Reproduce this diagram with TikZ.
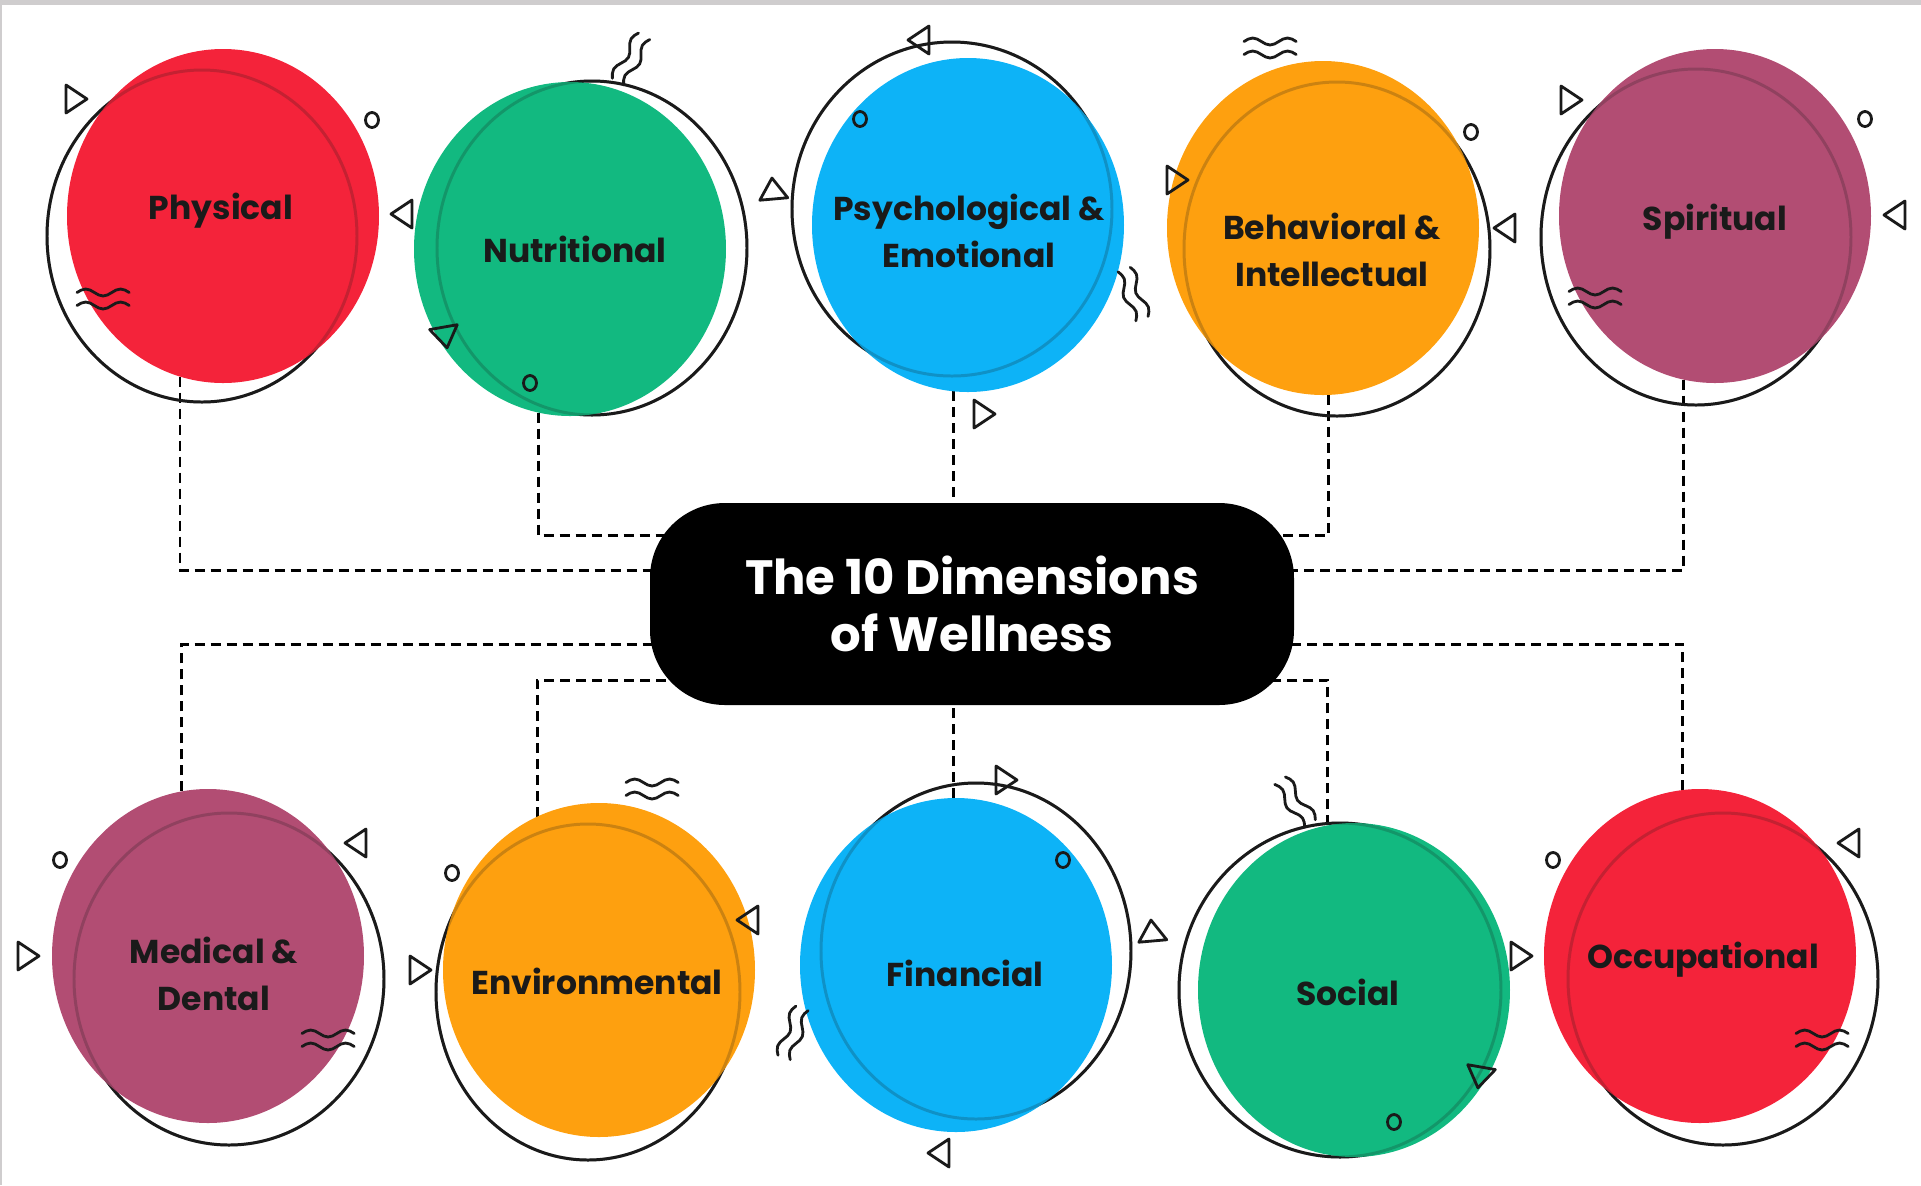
\documentclass[tikz,border=0pt]{standalone}
\usepackage{fontspec}
\setmainfont{Poppins}
\usetikzlibrary{shapes.geometric}
\definecolor{wRed}{HTML}{F4233A}
\definecolor{wGreen}{HTML}{12B980}
\definecolor{wBlue}{HTML}{0DB3F7}
\definecolor{wOrange}{HTML}{FEA00F}
\definecolor{wMauve}{HTML}{B24D73}
\definecolor{ink}{HTML}{1A1A1A}
\definecolor{edge}{HTML}{CFCDCE}
\pgfdeclarelayer{bg}
\pgfsetlayers{bg,main}
\tikzset{blob/.style={ellipse, minimum width=3.12cm, minimum height=3.34cm,
    inner sep=0pt, outer sep=0pt},
  lbl/.style={align=center, text=ink, font=\bfseries\fontsize{9.4}{13.4}\selectfont},
  ring/.style={draw=ink, line width=0.85pt},
  ghost/.style={draw=ink, draw opacity=.22, line width=0.85pt},
  link/.style={draw=black, line width=0.85pt, dash pattern=on 0.1cm off 0.06cm},
  deco/.style={draw=ink, line width=0.8pt, line join=round, line cap=round},
  titlebox/.style={fill=black, text=white, rounded corners=0.75cm, minimum width=6.44cm,
    minimum height=2.02cm, align=center, font=\bfseries\fontsize{13.7}{16.4}\selectfont},
  tri/.pic={\draw[deco] (0.12,0) -- (-0.09,0.14) -- (-0.09,-0.14) -- cycle;},
  dot/.pic={\draw[deco] (0,0) ellipse (0.065 and 0.075);},
  wave/.pic={\foreach \s in {0.065,-0.065}
    \draw[deco] (-0.26,\s) sin ++(0.087,0.035) cos ++(0.087,-0.035) sin ++(0.087,-0.035)
      cos ++(0.087,0.035) sin ++(0.087,0.035) cos ++(0.087,-0.035);}}

\begin{document}
\begin{tikzpicture}
		\useasboundingbox (0,0) rectangle (19.21,-11.85);
		\fill[edge] (0,0) rectangle (19.21,-0.05);
		\fill[edge] (0,0) rectangle (0.02,-11.85);
		% outline rings
		\foreach \x/\y/\rx/\ry in {2.02/-2.36/1.55/1.66, 5.92/-2.48/1.55/1.67,
		    9.52/-2.09/1.60/1.67, 13.37/-2.49/1.53/1.67, 16.96/-2.37/1.55/1.68,
		    2.29/-9.79/1.55/1.66, 5.88/-9.92/1.52/1.68, 9.76/-9.51/1.55/1.68,
		    13.40/-9.90/1.61/1.67, 17.23/-9.79/1.55/1.66}
		  \draw[ring] (\x,\y) ellipse (\rx cm and \ry cm);
		% dimensions
		\node[blob, fill=wRed] (phys) at (2.23,-2.16) {};
		\node[blob, fill=wGreen] (nutr) at (5.70,-2.49) {};
		\node[blob, fill=wBlue] (psy) at (9.68,-2.25) {};
		\node[blob, fill=wOrange] (beh) at (13.23,-2.28) {};
		\node[blob, fill=wMauve] (spir) at (17.15,-2.16) {};
		\node[blob, fill=wMauve] (med) at (2.08,-9.56) {};
		\node[blob, fill=wOrange] (env) at (5.99,-9.70) {};
		\node[blob, fill=wBlue] (fin) at (9.56,-9.65) {};
		\node[blob, fill=wGreen] (soc) at (13.54,-9.90) {};
		\node[blob, fill=wRed] (occ) at (17.00,-9.56) {};
		% rings seen through the colour
		\foreach \x/\y/\rx/\ry in {2.02/-2.36/1.55/1.66, 5.92/-2.48/1.55/1.67,
		    9.52/-2.09/1.60/1.67, 13.37/-2.49/1.53/1.67, 16.96/-2.37/1.55/1.68,
		    2.29/-9.79/1.55/1.66, 5.88/-9.92/1.52/1.68, 9.76/-9.51/1.55/1.68,
		    13.40/-9.90/1.61/1.67, 17.23/-9.79/1.55/1.66}
		  \draw[ghost] (\x,\y) ellipse (\rx cm and \ry cm);
		\node[lbl] (physT) at ([shift={(-0.02,0.05)}]phys) {Physical};
		\node[lbl] (nutrT) at ([shift={(0.05,0)}]nutr) {Nutritional};
		\node[lbl] (psyT) at ([shift={(0.01,-0.06)}]psy) {Psychological \&\\Emotional};
		\node[lbl] (behT) at ([shift={(0.09,-0.22)}]beh) {Behavioral \&\\Intellectual};
		\node[lbl] (spirT) at ([shift={(0,-0.06)}]spir) {Spiritual};
		\node[lbl] (medT) at ([shift={(0.06,-0.18)}]med) {Medical \&\\Dental};
		\node[lbl] (envT) at ([shift={(-0.02,-0.11)}]env) {Environmental};
		\node[lbl] (finT) at ([shift={(0.09,-0.08)}]fin) {Financial};
		\node[lbl] (socT) at ([shift={(-0.06,-0.02)}]soc) {Social};
		\node[lbl] (occT) at ([shift={(0.03,-0.04)}]occ) {Occupational};
		\node[titlebox] (title) at (9.72,-6.04) {The 10 Dimensions\\of Wellness};
		% little shapes
		\foreach \x/\y/\a in {0.75/-0.99/0, 4.03/-2.14/180, 4.45/-3.36/-80, 9.20/-0.40/180,
		    7.73/-1.90/95, 9.83/-4.14/0, 11.76/-1.80/0, 15.06/-2.28/180, 15.70/-1.00/0,
		    18.96/-2.15/180, 3.57/-8.43/180, 0.27/-9.56/0, 7.49/-9.20/180, 4.19/-9.70/0,
		    10.05/-7.80/0, 11.52/-9.32/95, 9.40/-11.53/180, 15.20/-9.56/0,
		    14.80/-10.76/-100, 18.50/-8.43/180}
		  \pic[rotate=\a] at (\x,\y) {tri};
		\foreach \x/\y in {3.72/-1.20, 5.30/-3.83, 8.60/-1.19, 14.71/-1.32, 18.65/-1.19,
		    0.60/-8.60, 4.52/-8.73, 10.63/-8.60, 13.94/-11.22, 15.53/-8.60}
		  \pic at (\x,\y) {dot};
		\foreach \x/\y/\a in {1.03/-2.99/0, 6.31/-0.59/60, 11.33/-2.94/-70, 12.70/-0.48/0,
		    15.95/-2.98/0, 3.28/-10.40/0, 6.52/-7.89/0, 7.93/-10.33/70, 12.95/-8.02/-55,
		    18.22/-10.40/0}
		  \pic[rotate=\a] at (\x,\y) {wave};
		% connectors
		\begin{pgfonlayer}{bg}
		\draw[link] (phys.255) |- ([yshift=0.34cm]title.center);
		\draw[link] (nutr.259) |- ([yshift=0.69cm]title.center);
		\draw[link] (psy.265) -- (psy.265 |- title.center);
		\draw[link] (beh.272) |- ([yshift=0.69cm]title.center);
		\draw[link] (spir.259) |- ([yshift=0.34cm]title.center);
		\draw[link] (med.99) |- ([yshift=-0.40cm]title.center);
		\draw[link] (env.112) |- ([yshift=-0.76cm]title.center);
		\draw[link] (fin.91) -- (fin.91 |- title.center);
		\draw[link] (soc.99) |- ([yshift=-0.76cm]title.center);
		\draw[link] (occ.96) |- ([yshift=-0.40cm]title.center);
		\end{pgfonlayer}
		\end{tikzpicture}
\end{document}
